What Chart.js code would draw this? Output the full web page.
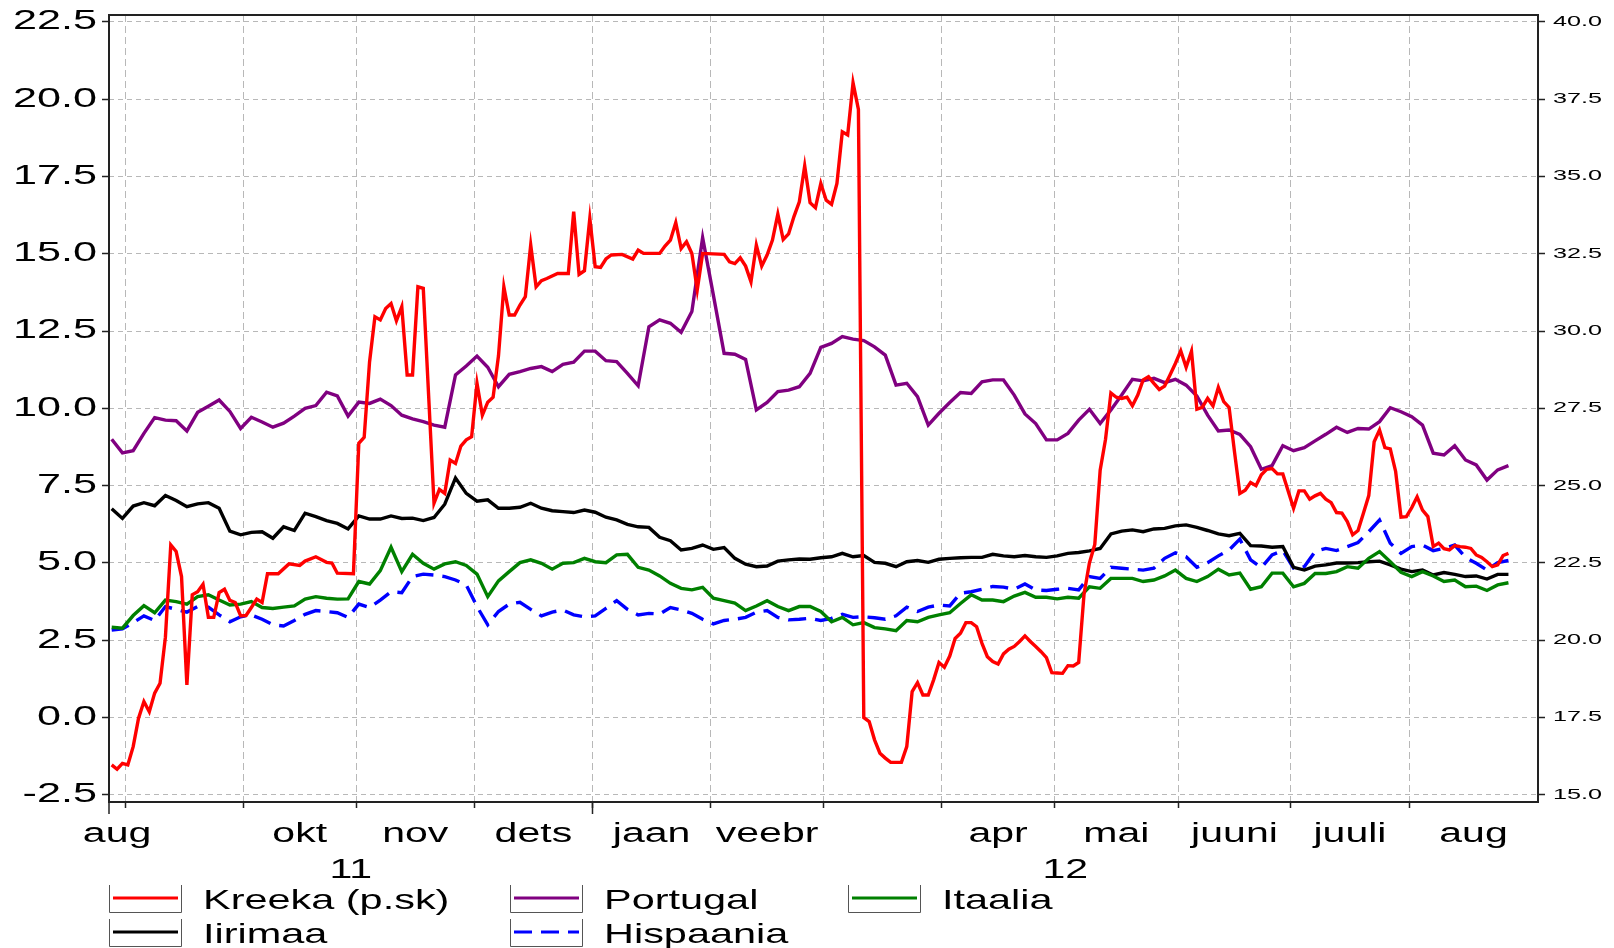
<!DOCTYPE html>
<html lang="et">
<head>
<meta charset="utf-8">
<title>Võlakirjade tulusus</title>
<script src="https://cdn.jsdelivr.net/npm/chart.js@4.4.1/dist/chart.umd.min.js"></script>
<style>
  html, body { margin: 0; padding: 0; background: #fff; }
  #wrap { width: 1614px; height: 948px; }
</style>
</head>
<body>
<div id="wrap"><canvas id="graafik" width="1614" height="948"></canvas></div>
<script>
// Tööpäevade indeks: 0 = 1. sept 2011
const days = [
  -3, -1, 1, 3, 5, 7, 9, 11, 13, 15,
  17, 19, 21, 23, 25, 27, 29, 31, 33, 35,
  37, 39, 41, 43, 45, 47, 49, 51, 53, 55,
  57, 59, 61, 63, 65, 67, 69, 71, 73, 75,
  77, 79, 81, 83, 85, 87, 89, 91, 93, 95,
  97, 99, 101, 103, 105, 107, 109, 111, 113, 115,
  117, 119, 121, 123, 125, 127, 129, 131, 133, 135,
  137, 139, 141, 143, 145, 147, 149, 151, 153, 155,
  157, 159, 161, 163, 165, 167, 169, 171, 173, 175,
  177, 179, 181, 183, 185, 187, 189, 191, 193, 195,
  197, 199, 201, 203, 205, 207, 209, 211, 213, 215,
  217, 219, 221, 223, 225, 227, 229, 231, 233, 235,
  237, 239, 241, 243, 245, 247, 249, 251, 253, 255,
  257
];

const portugal = [
  9.00, 8.56, 8.63, 9.19, 9.70, 9.62, 9.60, 9.27, 9.87, 10.07,
  10.27, 9.90, 9.35, 9.71, 9.56, 9.39, 9.52, 9.75, 10.00, 10.09,
  10.52, 10.40, 9.75, 10.20, 10.16, 10.30, 10.09, 9.78, 9.66, 9.57,
  9.46, 9.39, 11.08, 11.37, 11.69, 11.33, 10.70, 11.10, 11.19, 11.29,
  11.35, 11.19, 11.42, 11.49, 11.85, 11.85, 11.54, 11.51, 11.13, 10.73,
  12.64, 12.86, 12.75, 12.46, 13.13, 15.52, 13.66, 11.78, 11.75, 11.58,
  9.95, 10.19, 10.54, 10.59, 10.70, 11.13, 11.97, 12.10, 12.32, 12.24,
  12.19, 11.99, 11.72, 10.75, 10.81, 10.38, 9.46, 9.84, 10.19, 10.51,
  10.48, 10.86, 10.92, 10.92, 10.43, 9.82, 9.51, 8.98, 8.98, 9.19,
  9.62, 9.97, 9.51, 9.95, 10.43, 10.94, 10.89, 10.97, 10.83, 10.94,
  10.75, 10.40, 9.78, 9.27, 9.30, 9.16, 8.76, 8.03, 8.15, 8.79,
  8.63, 8.73, 8.95, 9.16, 9.39, 9.22, 9.35, 9.33, 9.57, 10.02,
  9.89, 9.73, 9.46, 8.55, 8.49, 8.79, 8.33, 8.17, 7.68, 8.01,
  8.15
];

const itaalia = [
  2.92, 2.89, 3.30, 3.62, 3.39, 3.80, 3.75, 3.67, 3.91, 3.97,
  3.80, 3.64, 3.67, 3.75, 3.56, 3.53, 3.57, 3.61, 3.83, 3.91,
  3.86, 3.83, 3.84, 4.40, 4.32, 4.75, 5.51, 4.72, 5.28, 4.99,
  4.80, 4.97, 5.04, 4.92, 4.64, 3.91, 4.42, 4.72, 5.01, 5.10,
  4.99, 4.80, 4.99, 5.01, 5.15, 5.04, 5.01, 5.26, 5.28, 4.86,
  4.77, 4.58, 4.34, 4.18, 4.13, 4.21, 3.86, 3.78, 3.70, 3.46,
  3.61, 3.78, 3.59, 3.46, 3.59, 3.59, 3.43, 3.10, 3.24, 3.00,
  3.07, 2.91, 2.87, 2.81, 3.14, 3.10, 3.24, 3.32, 3.39, 3.69,
  3.97, 3.80, 3.80, 3.75, 3.93, 4.05, 3.89, 3.89, 3.84, 3.89,
  3.86, 4.23, 4.18, 4.50, 4.50, 4.50, 4.40, 4.45, 4.58, 4.77,
  4.50, 4.40, 4.56, 4.80, 4.61, 4.67, 4.15, 4.23, 4.67, 4.67,
  4.23, 4.34, 4.66, 4.66, 4.72, 4.88, 4.83, 5.15, 5.37, 5.04,
  4.70, 4.56, 4.72, 4.58, 4.40, 4.45, 4.23, 4.25, 4.11, 4.29,
  4.36
];

const iirimaa = [
  6.75, 6.44, 6.84, 6.95, 6.85, 7.18, 7.02, 6.82, 6.91, 6.95,
  6.77, 6.03, 5.91, 5.99, 6.01, 5.80, 6.17, 6.05, 6.61, 6.50,
  6.37, 6.28, 6.10, 6.52, 6.42, 6.42, 6.52, 6.44, 6.45, 6.37,
  6.47, 6.90, 7.75, 7.25, 7.00, 7.04, 6.77, 6.77, 6.80, 6.93,
  6.77, 6.69, 6.66, 6.63, 6.71, 6.64, 6.48, 6.39, 6.25, 6.17,
  6.15, 5.83, 5.72, 5.42, 5.47, 5.58, 5.44, 5.50, 5.15, 4.96,
  4.88, 4.90, 5.06, 5.10, 5.13, 5.12, 5.17, 5.20, 5.31, 5.20,
  5.24, 5.02, 4.99, 4.88, 5.04, 5.08, 5.02, 5.12, 5.15, 5.17,
  5.18, 5.18, 5.28, 5.23, 5.20, 5.24, 5.20, 5.18, 5.23, 5.31,
  5.34, 5.39, 5.47, 5.94, 6.03, 6.07, 6.01, 6.10, 6.12, 6.20,
  6.23, 6.15, 6.05, 5.94, 5.88, 5.96, 5.56, 5.55, 5.51, 5.53,
  4.86, 4.77, 4.90, 4.94, 5.00, 5.00, 5.01, 5.04, 5.06, 4.94,
  4.80, 4.72, 4.77, 4.61, 4.69, 4.63, 4.56, 4.58, 4.48, 4.63,
  4.63
];

const hispaania = [
  2.83, 2.87, 3.07, 3.29, 3.14, 3.59, 3.50, 3.41, 3.59, 3.57,
  3.32, 3.10, 3.26, 3.32, 3.18, 3.00, 2.96, 3.14, 3.34, 3.46,
  3.43, 3.39, 3.24, 3.67, 3.56, 3.80, 4.07, 4.04, 4.56, 4.64,
  4.61, 4.56, 4.45, 4.29, 3.59, 3.00, 3.43, 3.67, 3.73, 3.50,
  3.29, 3.41, 3.48, 3.32, 3.26, 3.29, 3.53, 3.78, 3.50, 3.32,
  3.37, 3.35, 3.56, 3.48, 3.37, 3.18, 3.03, 3.14, 3.18, 3.24,
  3.41, 3.46, 3.24, 3.16, 3.18, 3.21, 3.14, 3.21, 3.34, 3.24,
  3.26, 3.23, 3.18, 3.29, 3.57, 3.43, 3.57, 3.64, 3.61, 4.02,
  4.07, 4.15, 4.24, 4.22, 4.15, 4.32, 4.13, 4.11, 4.15, 4.18,
  4.13, 4.56, 4.50, 4.86, 4.83, 4.80, 4.77, 4.83, 5.15, 5.33,
  5.20, 4.86, 5.01, 5.23, 5.42, 5.77, 5.10, 4.85, 5.26, 5.40,
  4.83, 4.88, 5.37, 5.47, 5.40, 5.53, 5.66, 6.01, 6.39, 5.64,
  5.31, 5.53, 5.58, 5.40, 5.47, 5.58, 5.18, 4.99, 4.77, 5.01,
  5.08
];

// Kreeka (parem skaala) – tihedamad punktid
const greeceDays = [
  -3, -2, -1, 0, 1, 2, 3, 4, 5, 6,
  7, 8, 9, 10, 11, 12, 13, 14, 15, 16,
  17, 18, 19, 20, 21, 22, 23, 24, 25, 26,
  28, 30, 32, 33, 35, 37, 38, 39, 42, 43,
  44, 45, 46, 47, 48, 49, 50, 51, 52, 53,
  54, 55, 57, 58, 59, 60, 61, 62, 63, 64,
  65, 66, 67, 68, 69, 70, 71, 72, 73, 74,
  75, 76, 77, 78, 80, 82, 83, 84, 85, 86,
  87, 88, 89, 90, 92, 94, 95, 96, 99, 100,
  101, 102, 103, 104, 105, 106, 107, 111, 112, 113,
  114, 115, 116, 117, 118, 119, 120, 121, 122, 123,
  124, 125, 126, 127, 128, 129, 130, 131, 132, 133,
  134, 135, 136, 137, 138, 139, 140, 141, 142, 144,
  145, 146, 147, 148, 149, 150, 151, 152, 153, 154,
  155, 156, 157, 158, 159, 160, 161, 162, 163, 164,
  165, 166, 167, 168, 169, 170, 171, 172, 173, 174,
  175, 176, 177, 178, 179, 180, 181, 182, 183, 184,
  185, 186, 187, 188, 189, 190, 191, 192, 193, 194,
  195, 196, 197, 198, 199, 200, 201, 202, 203, 204,
  205, 206, 207, 208, 209, 210, 211, 212, 213, 214,
  215, 217, 218, 219, 220, 221, 222, 223, 224, 225,
  226, 227, 228, 229, 230, 231, 232, 233, 234, 235,
  236, 237, 238, 239, 240, 241, 242, 243, 244, 245,
  246, 247, 248, 249, 250, 251, 252, 253, 254, 255,
  256, 257
];

const kreeka = [
  15.97, 15.83, 16.02, 15.97, 16.56, 17.48, 18.02, 17.69, 18.29, 18.61,
  20.10, 23.08, 22.87, 22.06, 18.56, 21.47, 21.57, 21.81, 20.74, 20.74,
  21.54, 21.65, 21.29, 21.22, 20.79, 20.80, 21.06, 21.33, 21.22, 22.15,
  22.15, 22.47, 22.42, 22.56, 22.70, 22.52, 22.50, 22.17, 22.15, 26.37,
  26.56, 29.00, 30.46, 30.36, 30.73, 30.89, 30.33, 30.79, 28.58, 28.58,
  31.43, 31.38, 24.43, 24.88, 24.75, 25.83, 25.72, 26.28, 26.48, 26.58,
  28.31, 27.28, 27.70, 27.86, 29.20, 31.43, 30.52, 30.52, 30.84, 31.11,
  32.78, 31.43, 31.63, 31.70, 31.86, 31.86, 33.86, 31.83, 31.95, 33.64,
  32.08, 32.06, 32.33, 32.46, 32.48, 32.33, 32.62, 32.51, 32.51, 32.75,
  32.94, 33.51, 32.67, 32.89, 32.51, 31.33, 32.51, 32.48, 32.24, 32.18,
  32.37, 32.10, 31.59, 32.78, 32.10, 32.46, 32.94, 33.78, 32.96, 33.14,
  33.70, 34.18, 35.34, 34.15, 33.99, 34.77, 34.23, 34.10, 34.77, 36.44,
  36.34, 38.03, 37.17, 17.50, 17.37, 16.78, 16.35, 16.19, 16.05, 16.05,
  16.56, 18.34, 18.63, 18.23, 18.23, 18.72, 19.28, 19.13, 19.49, 20.06,
  20.23, 20.57, 20.57, 20.44, 19.90, 19.47, 19.31, 19.23, 19.56, 19.71,
  19.80, 19.96, 20.14, 19.96, 19.80, 19.63, 19.44, 18.95, 18.94, 18.93,
  19.18, 19.17, 19.28, 21.50, 22.50, 23.10, 25.50, 26.50, 28.00, 27.86,
  27.82, 27.86, 27.58, 27.93, 28.42, 28.52, 28.31, 28.11, 28.22, 28.58,
  28.95, 29.36, 28.83, 29.35, 27.47, 27.53, 27.82, 27.58, 28.18, 27.72,
  27.53, 26.10, 24.75, 24.85, 25.10, 25.00, 25.35, 25.53, 25.55, 25.38,
  25.38, 24.27, 24.83, 24.83, 24.56, 24.67, 24.75, 24.56, 24.45, 24.13,
  24.11, 23.84, 23.41, 23.55, 24.11, 24.68, 26.42, 26.80, 26.23, 26.19,
  25.46, 23.98, 24.00, 24.29, 24.64, 24.21, 24.00, 23.03, 23.14, 22.96,
  22.92, 23.06, 23.03, 23.01, 22.97, 22.76, 22.68, 22.54, 22.38, 22.44,
  22.74, 22.81
];

// Teljed
const leftTicks = [-2.5, 0, 2.5, 5, 7.5, 10, 12.5, 15, 17.5, 20, 22.5];
const rightTicks = [15, 17.5, 20, 22.5, 25, 27.5, 30, 32.5, 35, 37.5, 40];
const monthBounds = [-0.5, 21.5, 42.5, 64.5, 86.5, 108.5, 129.5, 151.5, 172.5, 195.5, 216.5, 238.5];
const monthLabels = ["aug", "", "okt", "nov", "dets", "jaan", "veebr", "", "apr", "mai", "juuni", "juuli", "aug"];
const yearBounds = [-3.5, 86.5, 262.5];
const yearLabels = ["11", "12"];

const FONT = '"Liberation Sans", Arial, sans-serif';

// Lai kiri (originaalis on tekst laiaks venitatud)
function laiTekst(ctx, tekst, x, y, sx, joondus) {
  ctx.save();
  ctx.translate(x, y);
  ctx.scale(sx, 1);
  ctx.textAlign = joondus;
  ctx.fillText(tekst, 0, 0);
  ctx.restore();
}

function joon(ctx, x1, y1, x2, y2) {
  ctx.beginPath();
  ctx.moveTo(x1, y1);
  ctx.lineTo(x2, y2);
  ctx.stroke();
}

const tekstid = {
  id: "tekstid",
  afterDraw(chart) {
    const { ctx, chartArea: a, scales } = chart;
    const x = scales.x;
    ctx.save();

    // raam
    ctx.strokeStyle = "#222";
    ctx.lineWidth = 2;
    ctx.strokeRect(a.left, a.top, a.right - a.left, a.bottom - a.top);

    // aasta piiride pikad kriipsud
    ctx.lineWidth = 1.5;
    yearBounds.slice(0, -1).forEach(b => {
      const px = x.getPixelForValue(b);
      joon(ctx, px, a.bottom, px, a.bottom + 12);
    });

    ctx.fillStyle = "#000";
    ctx.textBaseline = "middle";
    ctx.font = "27px " + FONT;
    scales.y.ticks.forEach(t => {
      laiTekst(ctx, t.value.toFixed(1), a.left - 12, scales.y.getPixelForValue(t.value), 1.6, "right");
    });
    ctx.font = "14px " + FONT;
    scales.y2.ticks.forEach(t => {
      laiTekst(ctx, t.value.toFixed(1), a.right + 15, scales.y2.getPixelForValue(t.value), 1.8, "left");
    });

    // kuud ja aastad
    ctx.textBaseline = "alphabetic";
    ctx.font = "27px " + FONT;
    const piirid = [x.min, ...monthBounds, x.max];
    monthLabels.forEach((m, i) => {
      if (!m) return;
      const c = (piirid[i] + piirid[i + 1]) / 2;
      laiTekst(ctx, m, x.getPixelForValue(c), a.bottom + 40, 1.52, "center");
    });
    yearLabels.forEach((yl, i) => {
      const c = (yearBounds[i] + yearBounds[i + 1]) / 2;
      laiTekst(ctx, yl, x.getPixelForValue(c), a.bottom + 76, 1.52, "center");
    });

    // legend
    const veerud = [109, 510, 848];
    const read = [898, 932];
    ctx.font = "28px " + FONT;
    chart.data.datasets.forEach((ds, i) => {
      const lx = veerud[i % 3];
      const ly = read[Math.floor(i / 3)];
      ctx.strokeStyle = "#555";
      ctx.lineWidth = 1;
      ctx.setLineDash([]);
      ctx.beginPath();
      ctx.moveTo(lx + 0.5, ly - 13);
      ctx.lineTo(lx + 0.5, ly + 14.5);
      ctx.lineTo(lx + 72.5, ly + 14.5);
      ctx.lineTo(lx + 72.5, ly - 13);
      ctx.stroke();
      ctx.strokeStyle = ds.borderColor;
      ctx.lineWidth = 3;
      ctx.setLineDash(ds.borderDash || []);
      joon(ctx, lx + 4, ly, lx + 69, ly);
      ctx.setLineDash([]);
      laiTekst(ctx, ds.label, lx + 94, ly + 11, 1.48, "left");
    });

    ctx.restore();
  }
};

function punktid(xs, ys) {
  return xs.map((d, i) => ({ x: d, y: ys[i] }));
}

new Chart(document.getElementById("graafik"), {
  type: "line",
  data: {
    datasets: [
      { label: "Kreeka (p.sk)", data: punktid(greeceDays, kreeka), yAxisID: "y2", borderColor: "#ff0000" },
      { label: "Portugal", data: punktid(days, portugal), yAxisID: "y", borderColor: "#800080" },
      { label: "Itaalia", data: punktid(days, itaalia), yAxisID: "y", borderColor: "#008000" },
      { label: "Iirimaa", data: punktid(days, iirimaa), yAxisID: "y", borderColor: "#000000" },
      { label: "Hispaania", data: punktid(days, hispaania), yAxisID: "y", borderColor: "#0000ff", borderDash: [18, 9] }
    ]
  },
  options: {
    responsive: false,
    animation: false,
    layout: { padding: { top: 15, left: 0, right: 0, bottom: 0 } },
    elements: {
      point: { radius: 0 },
      line: { borderWidth: 3.4, tension: 0, fill: false }
    },
    plugins: {
      legend: { display: false },
      tooltip: { enabled: false }
    },
    scales: {
      x: {
        type: "linear",
        min: -3.5,
        max: 262.5,
        afterBuildTicks: s => { s.ticks = monthBounds.map(v => ({ value: v })); },
        afterFit: s => { s.height = 146; },
        ticks: { display: false },
        grid: { color: "#b8b8b8", lineWidth: 1, tickLength: 6, tickColor: "#222", tickWidth: 1.5 },
        border: { display: false, dash: [7, 4] }
      },
      y: {
        position: "left",
        min: -2.73,
        max: 22.72,
        afterBuildTicks: s => { s.ticks = leftTicks.map(v => ({ value: v })); },
        afterFit: s => { s.width = 109; },
        ticks: { display: false },
        grid: { color: "#b8b8b8", lineWidth: 1, tickLength: 7, tickColor: "#222", tickWidth: 1.5 },
        border: { display: false, dash: [5, 4] }
      },
      y2: {
        position: "right",
        min: 14.77,
        max: 40.22,
        afterBuildTicks: s => { s.ticks = rightTicks.map(v => ({ value: v })); },
        afterFit: s => { s.width = 76; },
        ticks: { display: false },
        grid: { drawOnChartArea: false, color: "#222", tickLength: 7, tickColor: "#222", tickWidth: 1.5 },
        border: { display: false }
      }
    }
  },
  plugins: [tekstid]
});
</script>
</body>
</html>
